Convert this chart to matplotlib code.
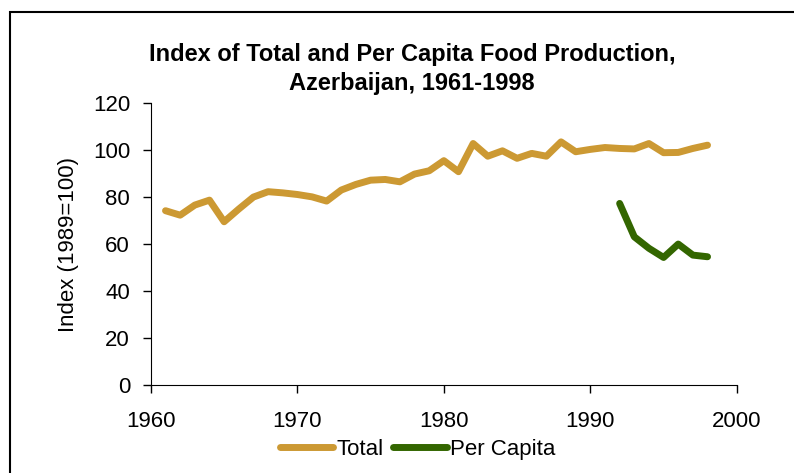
import matplotlib.pyplot as plt
from matplotlib.patches import Rectangle

plt.rcParams['font.family'] = ['Liberation Sans', 'DejaVu Sans']

# data
years_total = list(range(1961, 1999))
total = [74.2, 72.3, 76.6, 78.7, 69.5, 74.9, 80.0, 82.3, 81.8, 81.1,
         80.1, 78.3, 83.0, 85.4, 87.2, 87.5, 86.5, 89.8, 91.2, 95.5,
         90.8, 102.8, 97.4, 99.7, 96.5, 98.6, 97.4, 103.5, 99.3, 100.3,
         101.1, 100.7, 100.5, 102.8, 98.9, 99.0, 100.7, 102.1]
years_pc = list(range(1992, 1999))
per_capita = [77.3, 63.1, 58.2, 54.3, 60.0, 55.3, 54.6]

fig = plt.figure(figsize=(7.94, 4.73), dpi=100)
ax = fig.add_axes([0.190, 0.186, 0.738, 0.596])

ax.plot(years_total, total, color='#CC9933', lw=5, label='Total',
        solid_joinstyle='round', solid_capstyle='round')
ax.plot(years_pc, per_capita, color='#336600', lw=5, label='Per Capita',
        solid_joinstyle='round', solid_capstyle='round')

ax.set_xlim(1960, 2000)
ax.set_ylim(0, 120)
ax.set_xticks([1960, 1970, 1980, 1990, 2000])
ax.set_yticks(range(0, 121, 20))
ax.tick_params(labelsize=16, direction='out', length=6, width=1)
ax.tick_params(axis='x', pad=13)
ax.tick_params(axis='y', pad=9)
ax.spines['top'].set_visible(False)
ax.spines['right'].set_visible(False)
ax.set_ylabel('Index (1989=100)', fontsize=16, labelpad=10)

fig.text(0.519, 0.854, 'Index of Total and Per Capita Food Production,\nAzerbaijan, 1961-1998',
         ha='center', va='center', fontsize=17, fontweight='bold', linespacing=1.36)

ax.legend(loc='upper center', bbox_to_anchor=(0.455, -0.19), ncol=2, frameon=False,
          fontsize=16, handlelength=2.4, handletextpad=0.15, columnspacing=0.45,
          borderaxespad=0, borderpad=0)

# outer frame like the original chart area
fig.patches.append(Rectangle((10 / 794, -0.5), 2, 0.5 + (473 - 12) / 473,
                             transform=fig.transFigure, fill=False,
                             edgecolor='black', lw=1.5))

fig.savefig('out.png', dpi=100)
